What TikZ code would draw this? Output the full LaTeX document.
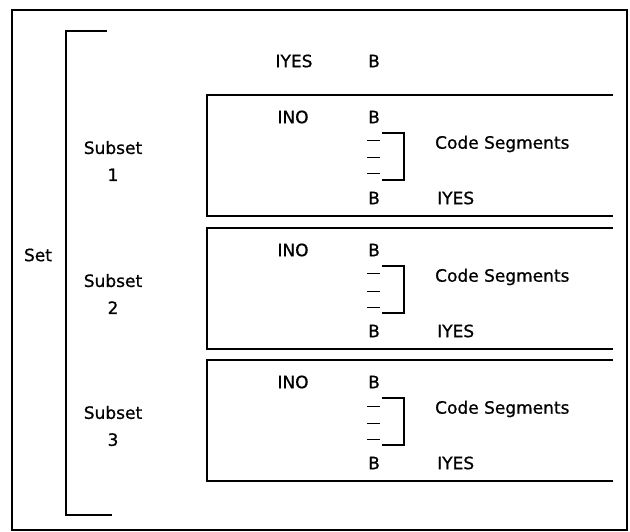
\documentclass[tikz,border=0pt]{standalone}
\usepackage{fontspec}
\setmainfont{DejaVu Sans}
\newfontfamily\lblfont[FakeBold=0.8]{DejaVu Sans}

\tikzset{
  rule/.style={line width=1.5pt},
  lbl/.style={font=\lblfont\fontsize{17}{27}\selectfont, inner sep=0pt, align=center},
}

\begin{document}
\begin{tikzpicture}[x=1pt,y=-1pt]
\useasboundingbox (0,0) rectangle (630,532);

% outer frame
\draw[rule] (12,10) rectangle (627,530);

% set bracket
\draw[rule] (107,31) -- (66,31) -- (66,515) -- (112,515);
\node [lbl] (set) at (38,255) {Set};

% branch into the first subset
\node [lbl] (iyes) at (294,61) {IYES};
\node [lbl] (btop) at (374,61) {B};

% one box per subset, \t is its top edge
\foreach \i/\t in {1/95,2/228,3/360} {
  \draw[rule] (613,\t) -- (207,\t) -- (207,\t+121) -- (613,\t+121);

  \node [lbl] (sub\i) at (113,\t+66) {Subset\\\i};

  \node [lbl] (ino\i) at (293,\t+22) {INO};
  \node [lbl] (bin\i) at (374,\t+22) {B};

  % code lines and their bracket
  \foreach \d in {46,63,79}
    \draw[line width=1pt] (367,\t+\d) -- (380,\t+\d);
  \draw[rule] (382,\t+38) -- (404,\t+38) -- (404,\t+85) -- (382,\t+85);
  \node [lbl, anchor=west] (code\i) at (435,\t+49) {Code Segments};

  \node [lbl] (bout\i) at (374,\t+103) {B};
  \node [lbl, anchor=west] (iyes\i) at (437,\t+103) {IYES};
}

\end{tikzpicture}
\end{document}
